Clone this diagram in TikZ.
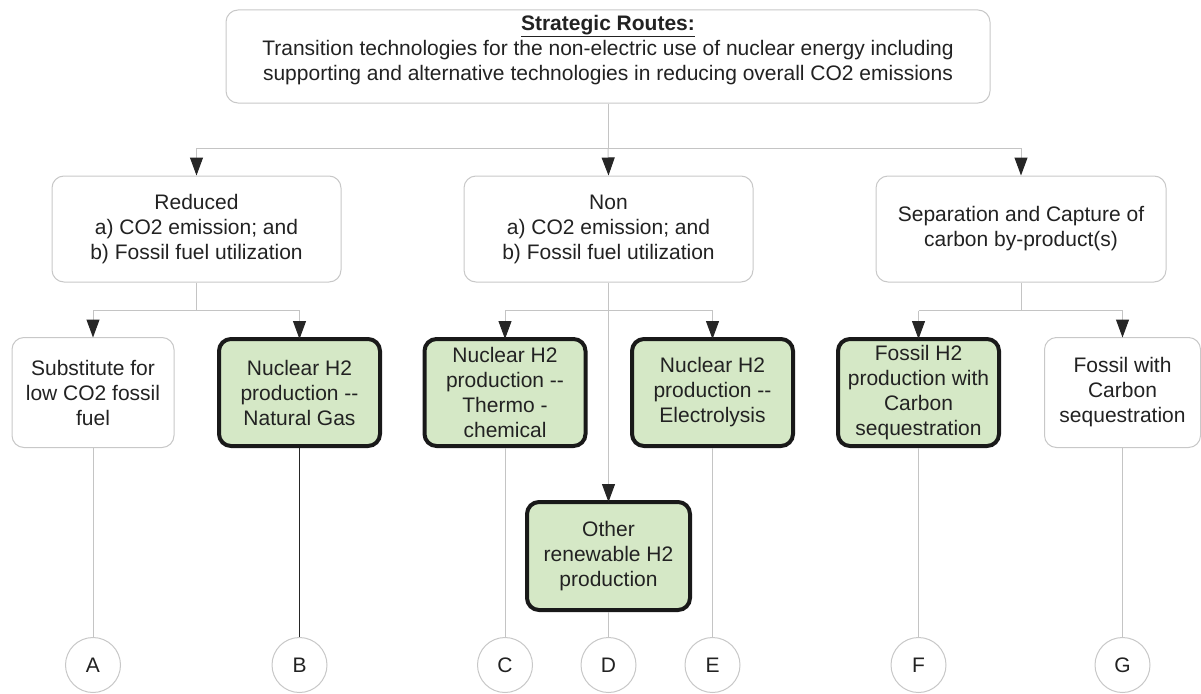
\documentclass[tikz,border=0pt]{standalone}
\usepackage{fontspec}
\setmainfont{Liberation Sans}
\usetikzlibrary{arrows.meta}
\definecolor{lgray}{HTML}{C4C4C4}
\definecolor{bgray}{HTML}{C8C8C8}
\definecolor{gfill}{HTML}{D5E8C6}
\definecolor{txt}{HTML}{222222}
\begin{document}
\begin{tikzpicture}[x=1pt,y=-1pt,
 every node/.style={font=\fontsize{21}{25}\selectfont, text=txt, align=center},
 whitebox/.style={draw=bgray, line width=1pt, rounded corners=12pt, fill=white, inner sep=0pt},
 greenbox/.style={draw=black!90, line width=4pt, rounded corners=12pt, fill=gfill, inner sep=0pt},
 circ/.style={draw=bgray, line width=1pt, circle, minimum size=55pt, inner sep=0pt, fill=white},
 conn/.style={draw=lgray, line width=1pt},
 darkconn/.style={draw=black!85, line width=1.6pt},
 arr/.style={conn, -{Triangle[width=13pt,length=18pt,color=black!85,fill=black!85]}},
 ]
\useasboundingbox (0,0) rectangle (1201,693);
% top
\node[whitebox, minimum width=764pt, minimum height=93pt] (top) at (608,56.5) {};
\node (toptext) at (608,50) {\underline{\textbf{Strategic Routes:}}\\Transition technologies for the non-electric use of nuclear energy including\\supporting and alternative technologies in reducing overall CO2 emissions};
% middle row
\node[whitebox, minimum width=289pt, minimum height=106pt] (red) at (196.5,229) {Reduced\\a) CO2 emission; and\\b) Fossil fuel utilization};
\node[whitebox, minimum width=289pt, minimum height=106pt] (non) at (608.5,229) {Non\\a) CO2 emission; and\\b) Fossil fuel utilization};
\node[whitebox, minimum width=290pt, minimum height=106pt] (sep) at (1021,229) {Separation and Capture of\\carbon by-product(s)};
% bottom row
\node[whitebox, minimum width=162pt, minimum height=110pt] (sub) at (93,392.5) {Substitute for\\low CO2 fossil\\fuel};
\node[greenbox, minimum width=161pt, minimum height=107pt] (ng) at (299.5,392.5) {Nuclear H2\\production -{}-\\Natural Gas};
\node[greenbox, minimum width=161pt, minimum height=107pt] (thermo) at (505,392.5) {Nuclear H2\\production -{}-\\Thermo -\\chemical};
\node[greenbox, minimum width=161pt, minimum height=107pt] (elec) at (712.5,392.5) {Nuclear H2\\production -{}-\\Electrolysis};
\node[greenbox, minimum width=161pt, minimum height=107pt] (fh2) at (918.5,392.5) {Fossil H2\\production with\\Carbon\\sequestration};
\node[whitebox, minimum width=156pt, minimum height=110pt] (fwc) at (1122.5,392.5) {Fossil with\\Carbon\\sequestration};
\node[greenbox, minimum width=163pt, minimum height=108pt] (other) at (608.5,556) {Other\\renewable H2\\production};
% circles
\node[circ] (A) at (93,665) {A};
\node[circ] (B) at (299.5,665) {B};
\node[circ] (C) at (505,665) {C};
\node[circ] (D) at (608.5,665) {D};
\node[circ] (E) at (712.5,665) {E};
\node[circ] (F) at (918.5,665) {F};
\node[circ] (G) at (1122.5,665) {G};
% level 1 connectors
\coordinate (h1) at (608,148);
\coordinate (hl) at (red.north |- h1);
\coordinate (hr) at (sep.north |- h1);
\draw[conn] (top.south) -- (h1);
\draw[conn] (hl) -- (hr);
\draw[arr] (hl) -- (red.north);
\draw[arr] (h1) -- (non.north);
\draw[arr] (hr) -- (sep.north);
% level 2 connectors
\path (red.south) ++(0,28) coordinate (rj);
\path (non.south) ++(0,28) coordinate (nj);
\path (sep.south) ++(0,28) coordinate (sj);
\draw[conn] (red.south) -- (rj);
\draw[conn] (sub.north |- rj) -- (ng.north |- rj);
\draw[arr] (sub.north |- rj) -- ([yshift=-0.5pt]sub.north);
\draw[arr] (ng.north |- rj) -- ([yshift=-2pt]ng.north);
\draw[conn] (thermo.north |- nj) -- (elec.north |- nj);
\draw[arr] (thermo.north |- nj) -- ([yshift=-2pt]thermo.north);
\draw[arr] (elec.north |- nj) -- ([yshift=-2pt]elec.north);
\draw[arr] (non.south) -- ([yshift=-2pt]other.north);
\draw[conn] (sep.south) -- (sj);
\draw[conn] (fh2.north |- sj) -- (fwc.north |- sj);
\draw[arr] (fh2.north |- sj) -- ([yshift=-2pt]fh2.north);
\draw[arr] (fwc.north |- sj) -- ([yshift=-0.5pt]fwc.north);
% bottom connectors
\draw[conn] (sub.south) -- (A.north);
\draw[darkconn] (ng.south) -- (B.north);
\draw[conn] (thermo.south) -- (C.north);
\draw[conn] (other.south) -- (D.north);
\draw[conn] (elec.south) -- (E.north);
\draw[conn] (fh2.south) -- (F.north);
\draw[conn] (fwc.south) -- (G.north);
\end{tikzpicture}
\end{document}
